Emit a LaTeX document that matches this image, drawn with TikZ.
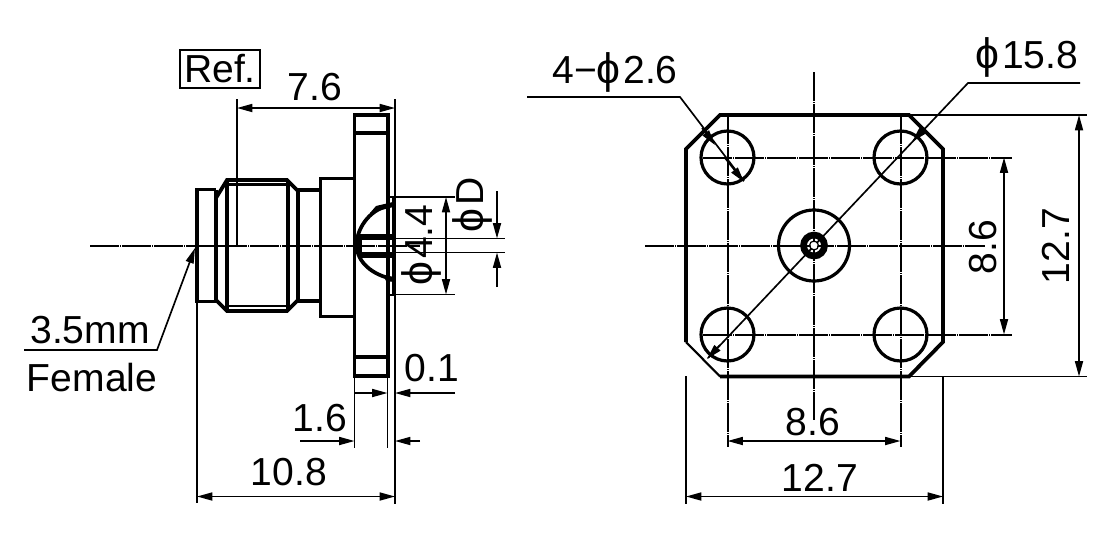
\documentclass[tikz,border=0pt]{standalone}
\usepackage{fontspec}
\setmainfont{Liberation Sans}
\usetikzlibrary{arrows.meta}
\newcommand{\phisym}{{\fontsize{32}{32}\selectfont ϕ}\hspace{2pt}}
\tikzset{
 outline/.style={line width=2.8pt,line join=miter},
 medline/.style={line width=1.6pt},
 thin line/.style={line width=1.25pt},
 centerline/.style={line width=1.5pt,dash pattern=on 22pt off 0.6pt on 0.8pt off 0.6pt},
 dim/.style={line width=1.25pt,{Triangle[length=11.5pt,width=6pt]}-{Triangle[length=11.5pt,width=6pt]}},
 endarrow/.style={line width=1.25pt,-{Triangle[length=11.5pt,width=6pt]}},
 lbl/.style={font=\fontsize{29.3}{30}\selectfont,inner sep=0pt},
}
\begin{document}
\begin{tikzpicture}[x=0.75pt,y=-0.75pt]
\useasboundingbox (0,0) rectangle (1110,536);
\fill[white] (0,0) rectangle (1110,536);
% ---------- side view
\draw[outline] (216,189.5) -- (197,189.5) -- (197,301.5) -- (216,301.5);
\draw[outline] (216,189.5) -- (216,301.5);
\draw[outline] (216,198) -- (227,180) -- (287,180) -- (298,191) -- (298,300) -- (287,311) -- (227,311) -- (216,300);
\draw[outline] (227,180) -- (227,311);
\draw[outline] (288,180) -- (288,311);
\draw[medline] (227,184.5) -- (288,184.5) (227,306) -- (288,306);
\draw[outline] (298,190) -- (320,190) (298,301) -- (320,301);
\draw[outline] (354.5,178.5) -- (320.5,178.5) -- (320.5,316.5) -- (354.5,316.5);
\draw[outline] (354.5,115) rectangle (388,376);
\draw[outline] (354.5,133) -- (388,133) (354.5,357) -- (388,357);
% rear of flange
\draw[outline] (394,197) -- (394,295);
\draw[medline] (387,197) -- (396,197) (387,295) -- (396,295);
\draw[outline] (393,205) .. controls (372,207) and (357,226) .. (356.5,245) .. controls (357,262) and (372,275) .. (393,279);
\fill[black] (376,206) -- (393,202) -- (393,207) -- (370,213) -- cycle;
\fill[black] (383,275) -- (394,277) -- (394,282) -- (386,281) -- cycle;
\fill[black] (360,234) rectangle (394,240);
\fill[black] (360,252) rectangle (394,258);
\draw[outline] (360,236) -- (360,256);
% centre line
\draw[centerline] (90,245.5) -- (420,245.5);
% dimension extension lines
\draw[thin line] (237,99) -- (237,245);
\draw[thin line] (395,99) -- (395,504);
\draw[thin line] (197,302) -- (197,503);
\draw[thin line] (354.5,376) -- (354.5,448);
\draw[thin line] (387.5,376) -- (387.5,448);
\draw[thin line] (396,197) -- (455,197) (396,294.5) -- (455,294.5);
\draw[thin line] (394,238.5) -- (505,238.5) (394,252.5) -- (505,252.5);
% dimensions
\draw[dim] (237,108) -- (395,108);
\draw[dim] (446,197) -- (446,294.5);
\draw[endarrow] (497,191) -- (497,238.5);
\draw[endarrow] (497,287) -- (497,252.5);
\draw[endarrow] (354.5,393) -- (387.5,393);
\draw[endarrow] (455,393) -- (395,393);
\draw[endarrow] (300,441) -- (354.5,441);
\draw[endarrow] (420,441) -- (395,441);
\draw[dim] (197,496.5) -- (395,496.5);
\coordinate (leaderA) at (24,350);
\coordinate (leaderB) at (157,350);
\coordinate (leaderC) at (195,248);
\draw[endarrow] (leaderA) -- (leaderB) -- (leaderC);
% labels side view
\node[draw,line width=1.25pt,inner sep=0pt,minimum width=60pt,minimum height=28.5pt,lbl] (ref) at (220,69) {Ref.};
\node[lbl] (t76) at (315,87) {7.6};
\node[lbl] (t35) at (90,330) {3.5mm};
\node[lbl] (tfem) at (92,378) {Female};
\node[lbl] (t01) at (432,368) {0.1};
\node[lbl] (t16) at (320,418) {1.6};
\node[lbl] (t108) at (289,472) {10.8};
\node[lbl,rotate=90] (t44) at (421,245) {\phisym 4.4};
\node[lbl,rotate=90] (tD) at (472,205) {\phisym D};
% ---------- front view
\draw[outline] (686,342) -- (686,149) -- (720,115) -- (909,115) -- (943,149) -- (943,342) -- (909,376.5) -- (720,376.5);
\draw[medline] (720,376.5) -- (686,342);
\foreach \hx/\hy in {727.5/157.5,900.5/157.5,727.5/334.5,900.5/334.5}
  \draw[line width=2.4pt] (\hx,\hy) circle (26.5);
\draw[line width=2.4pt] (814,245.5) circle (35.5);
\draw[line width=5pt] (814,245.5) circle (10.5);
\draw[centerline] (645,245.5) -- (985,245.5);
\draw[centerline] (814,72) -- (814,420);
\draw[centerline] (703,157.5) -- (1012,157.5);
\draw[centerline] (703,334.5) -- (1012,334.5);
\draw[centerline] (727.5,115) -- (727.5,447);
\draw[centerline] (900.5,115) -- (900.5,447);
\draw[thin line] (909,115) -- (1087,115) (909,376.5) -- (1087,376.5);
\draw[thin line] (686,376) -- (686,504) (943,376) -- (943,504);
\draw[dim] (1004,157.5) -- (1004,334.5);
\draw[dim] (1079,115) -- (1079,376.5);
\draw[dim] (727.5,441) -- (900.5,441);
\draw[dim] (686,496.5) -- (943,496.5);
% hole leader
\coordinate (la) at (527,97);
\coordinate (lb) at (680,97);
\coordinate (lc) at (744,181);
\draw[thin line] (la) -- (lb) -- (lc);
\draw[endarrow] (702,128) -- (715,145);
\draw[endarrow] (725,158) -- (744,182);
% diameter leader
\coordinate (da) at (1080,83);
\coordinate (db) at (968,83);
\coordinate (dc) at (708,358);
\draw[thin line] (da) -- (db) -- (dc);
\draw[endarrow] (925,128) -- (912,142);
\draw[endarrow] (720,345) -- (707,359);
\fill[white] (814,245.5) circle (3.5);
\draw[line width=0.9pt] (814,245.5) circle (4.5);
% labels front view
\node[lbl] (t426) at (615,72) {4−\phisym 2.6};
\node[lbl] (t158) at (1027,57) {\phisym 15.8};
\node[lbl] (t86b) at (813,422) {8.6};
\node[lbl] (t127b) at (820,478) {12.7};
\node[lbl,rotate=90] (t86r) at (983,247) {8.6};
\node[lbl,rotate=90] (t127r) at (1056,246) {12.7};
\end{tikzpicture}
\end{document}
